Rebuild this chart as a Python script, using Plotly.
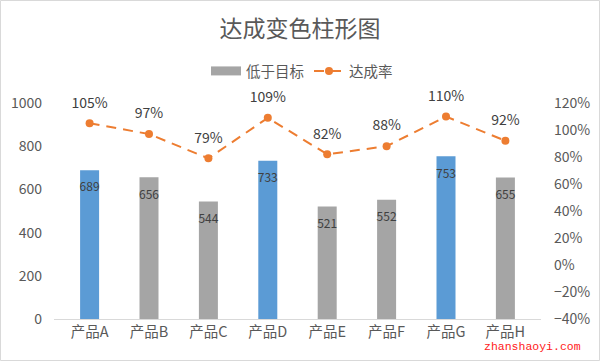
import plotly.graph_objects as go

categories = ["产品A", "产品B", "产品C", "产品D", "产品E", "产品F", "产品G", "产品H"]
sales = [689, 656, 544, 733, 521, 552, 753, 655]
rates = [1.05, 0.97, 0.79, 1.09, 0.82, 0.88, 1.10, 0.92]
rate_labels = ["105%", "97%", "79%", "109%", "82%", "88%", "110%", "92%"]

BLUE = "#5B9BD5"
GRAY = "#A5A5A5"
ORANGE = "#ED7D31"
TXT = "#595959"
FONT = "Noto Sans CJK SC, Open Sans, sans-serif"

# plot-area geometry in pixels
L, R, T, B = 54, 541, 103, 319
PW, PH = R - L, B - T

above = [v if r >= 1 else None for v, r in zip(sales, rates)]
below = [v if r < 1 else None for v, r in zip(sales, rates)]

fig = go.Figure()
fig.add_trace(go.Bar(
    x=categories, y=above, name="达成目标", showlegend=False,
    marker=dict(color=BLUE, line=dict(width=0)), width=0.32, hoverinfo="skip",
))
fig.add_trace(go.Bar(
    x=categories, y=below, name="低于目标", showlegend=False,
    marker=dict(color=GRAY, line=dict(width=0)), width=0.32, hoverinfo="skip",
))
# bar value labels
fig.add_trace(go.Scatter(
    x=categories, y=sales, mode="markers+text", showlegend=False,
    marker=dict(size=18, opacity=0), text=[str(v) for v in sales],
    textposition="bottom center", cliponaxis=False,
    textfont=dict(size=12, color="#404040", family=FONT), hoverinfo="skip",
))
# legend entry for gray bars (wide swatch)
fig.add_trace(go.Scatter(
    x=[None], y=[None], mode="lines", name="低于目标",
    line=dict(color=GRAY, width=9),
))
fig.add_trace(go.Scatter(
    x=categories, y=rates, name="达成率", yaxis="y2",
    mode="lines+markers", cliponaxis=False,
    line=dict(color=ORANGE, width=2, dash="10px,7px"),
    marker=dict(color=ORANGE, size=8),
))
# rate labels
fig.add_trace(go.Scatter(
    x=categories, y=rates, yaxis="y2", mode="markers+text", showlegend=False,
    marker=dict(size=18, opacity=0), text=rate_labels, textposition="top center",
    cliponaxis=False, hoverinfo="skip",
    textfont=dict(size=14, color="#404040", family=FONT),
))

fig.update_layout(
    width=600, height=361,
    margin=dict(l=L, r=600 - R, t=T, b=361 - B, autoexpand=False),
    paper_bgcolor="white", plot_bgcolor="white",
    font=dict(family=FONT, color=TXT, size=14),
    barmode="overlay",
    title=dict(text="达成变色柱形图", x=(300 - L) / PW, xref="paper", xanchor="center",
               y=1 - 29 / 361, yanchor="middle",
               font=dict(size=23, color=TXT, family=FONT)),
    legend=dict(orientation="h", x=(302 - L) / PW, xanchor="center", y=(B - 71) / PH, yanchor="middle",
                font=dict(size=14.5, color=TXT, family=FONT), bgcolor="rgba(0,0,0,0)",
                traceorder="normal"),
    xaxis=dict(showgrid=False, showline=True, linecolor="#D9D9D9", linewidth=1,
               ticks="", tickfont=dict(size=14.5, color=TXT), automargin=False),
    yaxis=dict(range=[0, 1000], dtick=200, showgrid=False, zeroline=False,
               showline=False, ticks="", ticklabelstandoff=11, automargin=False,
               tickfont=dict(size=14, color=TXT)),
    yaxis2=dict(range=[-0.4, 1.2], dtick=0.2, tickformat=".0%", overlaying="y", side="right",
                showgrid=False, zeroline=False, showline=False, ticks="", ticklabelstandoff=12,
                automargin=False, tickfont=dict(size=14, color=TXT)),
    shapes=[dict(type="rect", xref="paper", yref="paper",
                 x0=(0.5 - L) / PW, x1=(599.5 - L) / PW, y0=(B - 360.5) / PH, y1=(B - 0.5) / PH,
                 line=dict(color="#D9D9D9", width=1), fillcolor="rgba(0,0,0,0)", layer="below")],
    annotations=[dict(text="zhanshaoyi.com", xref="paper", yref="paper",
                      x=(482 - L) / PW, y=(B - 346) / PH, xanchor="left", yanchor="middle",
                      showarrow=False, font=dict(size=11.5, color="#FF2020", family="Liberation Mono"))],
)

fig.write_html("out.html", config={"displayModeBar": False},
               post_script="document.body.style.margin='0';")
